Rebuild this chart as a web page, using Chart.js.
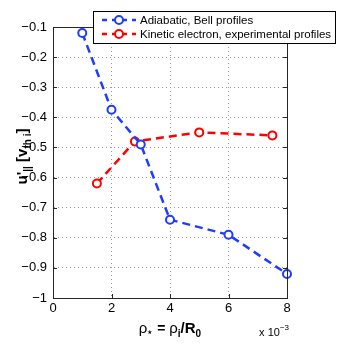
<!DOCTYPE html>
<html>
<head>
<meta charset="utf-8">
<script src="https://cdn.jsdelivr.net/npm/chart.js@4"></script>
<style>
  body { margin: 0; background: #fff; }
  canvas { display: block; }
</style>
</head>
<body>
<canvas id="grafica" width="343" height="350"></canvas>
<script>
// datos
const bellX = [1, 2, 3, 4, 6, 8];
const bellY = [-0.12, -0.375, -0.49, -0.74, -0.79, -0.92];
const kinX = [1.5, 2.8, 5, 7.5];
const kinY = [-0.62, -0.48, -0.45, -0.46];
const bellLabel = "Adiabatic, Bell profiles";
const kinLabel = "Kinetic electron, experimental profiles";
const xTicks = [0, 2, 4, 6, 8];
const yTicks = [-1, -0.9, -0.8, -0.7, -0.6, -0.5, -0.4, -0.3, -0.2, -0.1];

const FONT = "'Liberation Sans', Arial, Helvetica, sans-serif";
const AZUL = "#1f3dff";
const ROJO = "#ff0000";

function puntos(xs, ys){
    return xs.map((x, i) => ({x: x, y: ys[i]}));
}

// dibuja texto con sub/superindices, parts = [{t, size, off}]
function textoRico(ctx, parts, x, y, align){
    let total = 0;
    parts.forEach(p => {
        ctx.font = (p.normal ? "" : "bold ") + p.size + "px " + FONT;
        p.w = ctx.measureText(p.t).width;
        total += p.w;
    });
    let cx = align === "right" ? x - total : x - total / 2;
    ctx.textAlign = "left";
    ctx.textBaseline = "alphabetic";
    parts.forEach(p => {
        ctx.font = (p.normal ? "" : "bold ") + p.size + "px " + FONT;
        ctx.fillText(p.t, cx, y + (p.off || 0));
        cx += p.w;
    });
}

const marco = {
    id: "marco",
    afterDraw(chart){
        const ctx = chart.ctx;
        const a = chart.chartArea;
        const sx = chart.scales.x, sy = chart.scales.y;
        ctx.save();
        ctx.strokeStyle = "#262626";
        ctx.lineWidth = 1;
        ctx.beginPath();
        ctx.moveTo(a.left, a.top + 0.5);
        ctx.lineTo(a.right + 0.5, a.top + 0.5);
        ctx.lineTo(a.right + 0.5, a.bottom);
        ctx.stroke();
        // marcas hacia dentro
        ctx.beginPath();
        yTicks.forEach(v => {
            const y = Math.round(sy.getPixelForValue(v)) + 0.5;
            ctx.moveTo(a.left, y); ctx.lineTo(a.left + 4, y);
            ctx.moveTo(a.right, y); ctx.lineTo(a.right - 4, y);
        });
        xTicks.forEach(v => {
            const x = Math.round(sx.getPixelForValue(v)) + 0.5;
            ctx.moveTo(x, a.bottom); ctx.lineTo(x, a.bottom - 4);
            ctx.moveTo(x, a.top); ctx.lineTo(x, a.top + 4);
        });
        ctx.stroke();

        ctx.fillStyle = "#000";
        // titulo eje y
        ctx.save();
        ctx.translate(27, (a.top + a.bottom) / 2 - 6);
        ctx.rotate(-Math.PI / 2);
        textoRico(ctx, [
            {t: "u'", size: 15},
            {t: "||", size: 10, off: 4},
            {t: " [v", size: 15},
            {t: "th i", size: 10, off: 4},
            {t: "]", size: 15}
        ], 0, 0);
        ctx.restore();

        // titulo eje x
        textoRico(ctx, [
            {t: "\u03c1", size: 15, normal: true},
            {t: "\u22c6", size: 9, off: 2},
            {t: " = ", size: 14},
            {t: "\u03c1", size: 15, normal: true},
            {t: "i", size: 10, off: 4},
            {t: "/R", size: 15},
            {t: "0", size: 10, off: 4}
        ], (a.left + a.right) / 2, 333);

        textoRico(ctx, [
            {t: "x 10", size: 11, normal: true},
            {t: "\u22123", size: 8, normal: true, off: -6}
        ], a.right + 2, 336, "right");

        // leyenda
        const lx = 93, ly = 11, lw = 242, lh = 32;
        ctx.fillStyle = "#fff";
        ctx.fillRect(lx, ly, lw, lh);
        ctx.strokeStyle = "#000";
        ctx.lineWidth = 1;
        ctx.strokeRect(lx + 0.5, ly + 0.5, lw, lh);
        chart.data.datasets.forEach((ds, i) => {
            const y = ly + 9 + i * 14;
            ctx.strokeStyle = ds.borderColor;
            ctx.lineWidth = 2.5;
            ctx.setLineDash([5, 5]);
            ctx.beginPath();
            ctx.moveTo(102, y); ctx.lineTo(136, y);
            ctx.stroke();
            ctx.setLineDash([]);
            ctx.lineWidth = 2;
            ctx.fillStyle = "#fff";
            ctx.beginPath();
            ctx.arc(119, y, 4, 0, Math.PI * 2);
            ctx.fill();
            ctx.stroke();
            ctx.fillStyle = "#000";
            ctx.font = "11.5px " + FONT;
            ctx.textAlign = "left";
            ctx.textBaseline = "middle";
            ctx.fillText(ds.label, 140, y + 0.5);
        });
        ctx.restore();
    }
};

const miGrafica = document.getElementById("grafica").getContext("2d");
const G1 = new Chart(miGrafica, {
    type: "line",
    data: {
        datasets: [
            {
                label: bellLabel,
                data: puntos(bellX, bellY),
                borderColor: AZUL,
                backgroundColor: "#fff",
                borderWidth: 2.5,
                borderDash: [8, 5],
                pointRadius: 4,
                pointBorderWidth: 2,
                pointBackgroundColor: "#fff",
                clip: 8,
                tension: 0
            },
            {
                label: kinLabel,
                data: puntos(kinX, kinY),
                borderColor: ROJO,
                backgroundColor: "#fff",
                borderWidth: 2.5,
                borderDash: [8, 5],
                pointRadius: 4,
                pointBorderWidth: 2,
                pointBackgroundColor: "#fff",
                clip: 8,
                tension: 0
            }
        ]
    },
    options: {
        responsive: false,
        animation: false,
        devicePixelRatio: 1,
        layout: { padding: { left: 0, right: 56, top: 27, bottom: 0 } },
        plugins: { legend: { display: false }, tooltip: { enabled: false } },
        scales: {
            x: {
                type: "linear",
                min: 0, max: 8,
                afterBuildTicks: s => { s.ticks = xTicks.map(v => ({value: v})); },
                afterFit: s => { s.height = 52; },
                ticks: { color: "#000", font: { family: FONT, size: 13 }, padding: 3, maxRotation: 0 },
                grid: { color: "#9a9a9a", lineWidth: 1, drawTicks: false },
                border: { color: "#262626", width: 1, dash: [1, 3] }
            },
            y: {
                type: "linear",
                min: -1, max: -0.1,
                afterBuildTicks: s => { s.ticks = yTicks.map(v => ({value: v})); },
                afterFit: s => { s.width = 53; },
                ticks: {
                    color: "#000", font: { family: FONT, size: 13 }, padding: 6,
                    callback: v => String(v).replace("-", "\u2212")
                },
                grid: { color: "#9a9a9a", lineWidth: 1, drawTicks: false },
                border: { color: "#262626", width: 1, dash: [1, 3] }
            }
        }
    },
    plugins: [marco]
});
</script>
</body>
</html>
